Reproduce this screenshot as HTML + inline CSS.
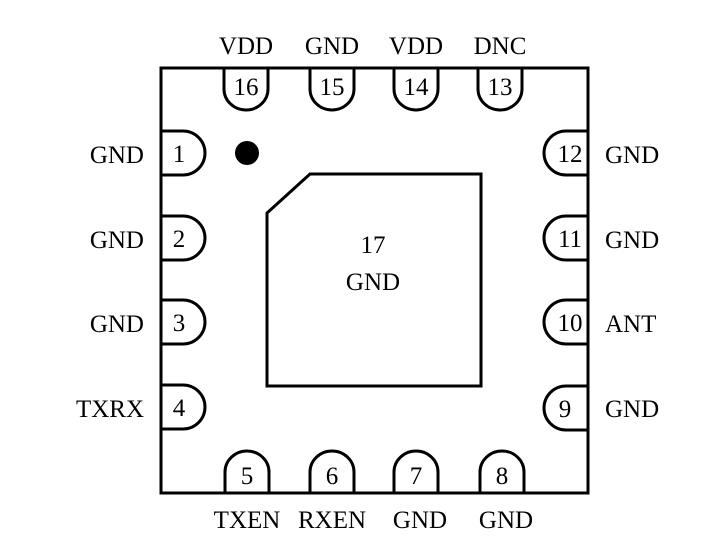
<!DOCTYPE html>
<html><head><style>body{margin:0;background:#fff}</style></head><body>
<svg width="724" height="544" xmlns="http://www.w3.org/2000/svg" font-family="Liberation Serif, serif" font-size="25" fill="#000">
<g fill="none" stroke="#000" stroke-width="3">
<rect x="161" y="68" width="427" height="425"/>
<path d="M310 174 H481 V386 H267 V213 Z"/>
<path d="M224 68 V89 A22 21 0 0 0 268 89 V68"/>
<path d="M310 68 V89 A22 21 0 0 0 354 89 V68"/>
<path d="M394 68 V89 A22 21 0 0 0 438 89 V68"/>
<path d="M478 68 V89 A22 21 0 0 0 522 89 V68"/>
<path d="M225 493 V472 A22 21 0 0 1 269 472 V493"/>
<path d="M310 493 V472 A22 21 0 0 1 354 472 V493"/>
<path d="M394 493 V472 A22 21 0 0 1 438 472 V493"/>
<path d="M480 493 V472 A22 21 0 0 1 524 472 V493"/>
<path d="M161 131 H183 A22 22 0 0 1 183 175 H161"/>
<path d="M161 216 H183 A22 22 0 0 1 183 260 H161"/>
<path d="M161 300 H183 A22 22 0 0 1 183 344 H161"/>
<path d="M161 385 H183 A22 22 0 0 1 183 429 H161"/>
<path d="M588 131 H566 A22 22 0 0 0 566 175 H588"/>
<path d="M588 216 H566 A22 22 0 0 0 566 260 H588"/>
<path d="M588 300 H566 A22 22 0 0 0 566 344 H588"/>
<path d="M588 386 H566 A22 22 0 0 0 566 430 H588"/>
</g>
<circle cx="247" cy="153" r="12"/>
<g text-anchor="middle">
<text x="246" y="95">16</text><text x="332" y="95">15</text><text x="416" y="95">14</text><text x="500" y="95">13</text>
<text x="247" y="484">5</text><text x="332" y="484">6</text><text x="416" y="484">7</text><text x="502" y="484">8</text>
<text x="179" y="162">1</text><text x="179" y="247">2</text><text x="179" y="331">3</text><text x="179" y="416">4</text>
<text x="570" y="162">12</text><text x="570" y="247">11</text><text x="570" y="331">10</text><text x="565" y="417">9</text>
<text x="246" y="54">VDD</text><text x="332" y="54">GND</text><text x="416" y="54">VDD</text><text x="500" y="54">DNC</text>
<text x="247" y="528">TXEN</text><text x="332" y="528">RXEN</text><text x="420" y="528">GND</text><text x="506" y="528">GND</text>
<text x="373" y="253">17</text><text x="373" y="290">GND</text>
</g>
<g text-anchor="end">
<text x="144" y="163">GND</text><text x="144" y="248">GND</text><text x="144" y="332">GND</text><text x="144" y="417">TXRX</text>
</g>
<g>
<text x="605" y="163">GND</text><text x="605" y="248">GND</text><text x="605" y="332">ANT</text><text x="605" y="417">GND</text>
</g>
</svg>
</body></html>
